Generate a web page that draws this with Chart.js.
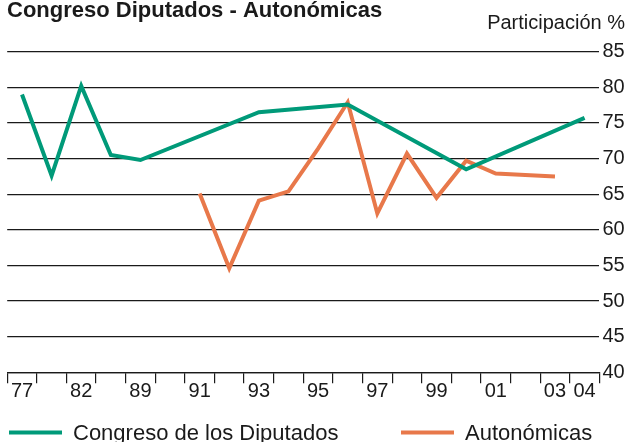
<!DOCTYPE html>
<html>
<head>
<meta charset="utf-8">
<script src="https://cdn.jsdelivr.net/npm/chart.js@4.4.1/dist/chart.umd.min.js"></script>
<style>
  body { margin: 0; background: #fff; }
  #chart { display: block; }
</style>
</head>
<body>
<canvas id="chart" width="630" height="442"></canvas>
<script>
// election years (one slot each on the x axis)
const years = ["1977", "1979", "1982", "1986", "1989", "1990", "1991", "1992", "1993", "1994",
               "1995", "1996", "1997", "1998", "1999", "2000", "2001", "2002", "2003", "2004"];
const tickLabels = ["77", "", "82", "", "89", "", "91", "", "93", "", "95", "", "97", "", "99", "", "01", "", "03", "04"];

// turnout, %
const congreso = [79.0, 67.6, 80.2, 70.5, 69.8, null, null, null, 76.5, null,
                  null, 77.6, null, null, null, 68.5, null, null, null, 75.7];
const autonomicas = [null, null, null, null, null, null, 65.1, 54.6, 64.1, 65.4,
                     71.4, 77.9, 62.3, 70.7, 64.5, 69.7, 67.9, null, 67.5, null];

const yTicks = { min: 40, max: 85, step: 5 };

const titleText = "Congreso Diputados - Autonómicas";
const unitText = "Participación %";

const FONT = '"Liberation Sans", Arial, sans-serif';
const INK = "#1a1a1a";
const GREEN = "#009a79";
const ORANGE = "#e8784a";

// title, unit label and the key under the axis
const headerAndKey = {
  id: "headerAndKey",
  afterDraw(chart) {
    const ctx = chart.ctx;
    ctx.save();
    ctx.fillStyle = INK;
    ctx.textBaseline = "alphabetic";
    ctx.textAlign = "left";
    ctx.font = "bold 22px " + FONT;
    ctx.fillText(titleText, 7, 16.5);
    ctx.textAlign = "right";
    ctx.font = "20px " + FONT;
    ctx.fillText(unitText, 625, 29);

    ctx.textAlign = "left";
    ctx.font = "22px " + FONT;
    const keyX = [9, 401];
    chart.data.datasets.forEach((ds, i) => {
      ctx.fillStyle = ds.borderColor;
      ctx.fillRect(keyX[i], 430.5, 53, 4);
      ctx.fillStyle = INK;
      ctx.fillText(ds.label, keyX[i] + 64, 439.5);
    });
    ctx.restore();
  }
};

new Chart(document.getElementById("chart"), {
  type: "line",
  data: {
    labels: years,
    datasets: [
      {
        label: "Congreso de los Diputados",
        data: congreso,
        borderColor: GREEN,
        backgroundColor: GREEN,
        borderWidth: 4,
        pointRadius: 0,
        tension: 0,
        spanGaps: true,
        borderJoinStyle: "miter",
      },
      {
        label: "Autonómicas",
        data: autonomicas,
        borderColor: ORANGE,
        backgroundColor: ORANGE,
        borderWidth: 4,
        pointRadius: 0,
        tension: 0,
        spanGaps: true,
        borderJoinStyle: "miter",
      },
    ],
  },
  options: {
    responsive: false,
    animation: false,
    layout: { padding: { top: 51.7, left: 7.2, right: 0.6, bottom: 0 } },
    plugins: {
      legend: { display: false },
      title: { display: false },
      tooltip: { enabled: false },
    },
    scales: {
      x: {
        offset: true,
        grid: {
          offset: true,
          drawOnChartArea: false,
          drawTicks: true,
          tickLength: 11,
          color: INK,
          lineWidth: 1.2,
        },
        border: { display: true, color: INK, width: 1.2 },
        ticks: {
          autoSkip: false,
          maxRotation: 0,
          padding: -4,
          color: INK,
          font: { family: FONT, size: 20 },
          callback: (v, i) => tickLabels[i],
        },
        afterFit: (s) => { s.height = 69.7; },
      },
      y: {
        position: "right",
        min: yTicks.min,
        max: yTicks.max,
        grid: { drawTicks: false, color: INK, lineWidth: 1.2 },
        border: { display: false },
        ticks: {
          stepSize: yTicks.step,
          padding: 3,
          color: INK,
          font: { family: FONT, size: 20 },
        },
        afterFit: (s) => { s.width = 30; },
      },
    },
  },
  plugins: [headerAndKey],
});
</script>
</body>
</html>
